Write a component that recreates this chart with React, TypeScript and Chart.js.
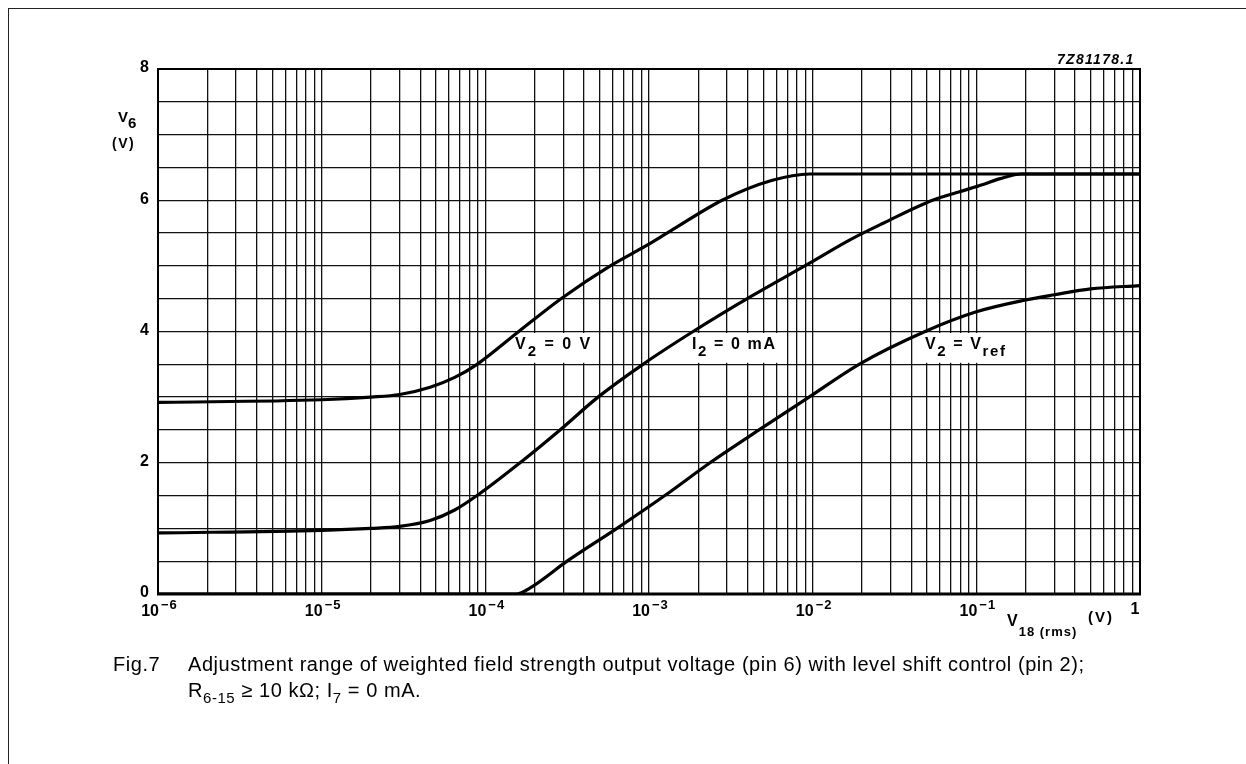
import React, { useEffect, useRef } from "react";
import { Chart, registerables } from "chart.js";

Chart.register(...registerables);

// Axis ranges
const X_MIN = 1e-6;
const X_MAX = 1;
const Y_MIN = 0;
const Y_MAX = 8;
const Y_LABELS = [0, 2, 4, 6, 8];
const X_DECADES = [-6, -5, -4, -3, -2, -1];

// V2 = 0 V
const v2ZeroX = [1e-6, 1e-5, 2e-5, 3e-5, 4.6e-5, 6.5e-5, 8.9e-5, 1.6e-4, 2.9e-4, 5.8e-4, 9.5e-4, 1.35e-3, 2.8e-3, 5.6e-3, 9.6e-3, 1];
const v2ZeroY = [2.92, 2.96, 3.0, 3.04, 3.15, 3.3, 3.5, 4.0, 4.5, 5.0, 5.3, 5.53, 6.0, 6.3, 6.4, 6.4];

// I2 = 0 mA
const i2ZeroX = [1e-6, 1e-5, 2e-5, 3e-5, 4.6e-5, 6.5e-5, 8.9e-5, 1.63e-4, 2.86e-4, 4.88e-4, 9.18e-4, 1.86e-3, 4.1e-3, 9.4e-3, 1.7e-2, 2.7e-2, 5.4e-2, 7.9e-2, 0.11, 0.14, 0.19, 1];
const i2ZeroY = [0.93, 0.97, 1.0, 1.03, 1.12, 1.28, 1.5, 2.0, 2.5, 3.0, 3.5, 4.0, 4.52, 5.03, 5.4, 5.65, 6.0, 6.13, 6.24, 6.33, 6.4, 6.4];

// V2 = Vref
const v2RefX = [1e-6, 1.56e-4, 1.87e-4, 3.16e-4, 6.37e-4, 1.25e-3, 2.36e-3, 4.7e-3, 9.5e-3, 1.92e-2, 4.86e-2, 0.1, 0.2, 0.3, 0.5, 1];
const v2RefY = [0, 0, 0.09, 0.5, 1.0, 1.5, 2.0, 2.5, 3.0, 3.5, 4.0, 4.3, 4.48, 4.56, 4.65, 4.7];

const FONT = '"Liberation Sans", Arial, Helvetica, sans-serif';

type Part = { t: string; size: number; dy?: number; style?: string };

function drawParts(ctx: CanvasRenderingContext2D, x: number, y: number, parts: Part[], spacing = 0) {
  let cx = x;
  ctx.textAlign = "left";
  ctx.textBaseline = "middle";
  (ctx as any).letterSpacing = `${spacing}px`;
  for (const p of parts) {
    ctx.font = `${p.style || "bold"} ${p.size}px ${FONT}`;
    ctx.fillText(p.t, cx, y + (p.dy || 0));
    cx += ctx.measureText(p.t).width;
  }
  (ctx as any).letterSpacing = "0px";
}

function toPoints(xs: number[], ys: number[]) {
  return xs.map((x, i) => ({ x, y: ys[i] }));
}

const decorations = {
  id: "decorations",
  beforeDatasetsDraw(chart: any) {
    const { ctx, chartArea: a, scales } = chart;
    const ys = scales.y;
    ctx.save();
    // white boxes behind the curve labels
    const top = ys.getPixelForValue(4.0) + 1.5;
    const bot = ys.getPixelForValue(3.5) - 1.5;
    ctx.fillStyle = "#fff";
    ctx.fillRect(511, top, 86, bot - top);
    ctx.fillRect(687, top, 94, bot - top);
    ctx.fillRect(920, top, 93, bot - top);
    // plot frame
    ctx.strokeStyle = "#000";
    ctx.lineWidth = 2;
    ctx.strokeRect(a.left, a.top, a.right - a.left, a.bottom - a.top);
    ctx.lineWidth = 3;
    ctx.beginPath();
    ctx.moveTo(a.left - 1, a.bottom);
    ctx.lineTo(a.right + 1, a.bottom);
    ctx.stroke();
    ctx.restore();
  },
  afterDraw(chart: any) {
    const { ctx, scales } = chart;
    const xs = scales.x;
    const ys = scales.y;
    ctx.save();
    ctx.fillStyle = "#000";

    // y tick labels
    ctx.font = `bold 16px ${FONT}`;
    ctx.textAlign = "right";
    ctx.textBaseline = "middle";
    for (const v of Y_LABELS) {
      ctx.fillText(String(v), 149, ys.getPixelForValue(v) - 1);
    }

    // x tick labels (powers of ten)
    for (const e of X_DECADES) {
      const px = xs.getPixelForValue(Math.pow(10, e));
      ctx.font = `bold 16px ${FONT}`;
      ctx.textAlign = "right";
      ctx.textBaseline = "middle";
      ctx.fillText("10", px + 1, 612);
      drawParts(ctx, px + 3, 605, [{ t: "\u2212" + String(-e), size: 13 }], 1);
    }
    ctx.font = `bold 16px ${FONT}`;
    ctx.textAlign = "center";
    ctx.textBaseline = "middle";
    ctx.fillText("1", xs.getPixelForValue(X_MAX) - 5, 610);

    // axis titles
    drawParts(ctx, 118, 118, [
      { t: "V", size: 15 },
      { t: "6", size: 15, dy: 6 },
    ]);
    drawParts(ctx, 112, 144, [{ t: "(V)", size: 14 }], 1.5);
    drawParts(ctx, 1007, 622, [
      { t: "V", size: 16 },
      { t: "18 (rms)", size: 13, dy: 10 },
    ], 1);
    drawParts(ctx, 1088, 618, [{ t: "(V)", size: 15 }], 2);

    // drawing code
    drawParts(ctx, 1057, 60, [{ t: "7Z81178.1", size: 14, style: "italic bold" }], 1.3);

    // curve labels
    drawParts(ctx, 515, 345, [
      { t: "V", size: 16 },
      { t: "2", size: 15, dy: 7 },
      { t: " = 0 V", size: 16 },
    ], 2);
    drawParts(ctx, 692, 345, [
      { t: "I", size: 16 },
      { t: "2", size: 15, dy: 7 },
      { t: " = 0 mA", size: 16 },
    ], 1.6);
    drawParts(ctx, 925, 345, [
      { t: "V", size: 16 },
      { t: "2", size: 15, dy: 7 },
      { t: " = V", size: 16 },
      { t: "ref", size: 15, dy: 7 },
    ], 1.6);
    ctx.restore();
  },
};

export default function App() {
  const canvasRef = useRef<HTMLCanvasElement | null>(null);

  useEffect(() => {
    const canvas = canvasRef.current;
    if (!canvas) return;
    const lineStyle = {
      borderColor: "#000",
      borderWidth: 3.2,
      pointRadius: 0,
      fill: false,
      cubicInterpolationMode: "monotone" as const,
    };
    const chart = new Chart(canvas, {
      type: "line",
      data: {
        datasets: [
          { label: "V2 = 0 V", data: toPoints(v2ZeroX, v2ZeroY), ...lineStyle },
          { label: "I2 = 0 mA", data: toPoints(i2ZeroX, i2ZeroY), ...lineStyle },
          { label: "V2 = Vref", data: toPoints(v2RefX, v2RefY), ...lineStyle },
        ],
      },
      options: {
        responsive: false,
        animation: false,
        events: [],
        layout: { padding: { left: 158, right: 106, top: 69, bottom: 170 } },
        plugins: { legend: { display: false }, tooltip: { enabled: false } },
        scales: {
          x: {
            type: "logarithmic",
            min: X_MIN,
            max: X_MAX,
            afterBuildTicks: (scale: any) => {
              const ticks: { value: number }[] = [];
              for (let e = -6; e < 0; e++) {
                for (let m = 1; m <= 9; m++) ticks.push({ value: m * Math.pow(10, e) });
              }
              ticks.push({ value: 1 });
              scale.ticks = ticks;
            },
            afterFit: (scale: any) => {
              scale.height = 0;
            },
            ticks: { display: false },
            border: { display: false },
            grid: { color: "#111", lineWidth: 1.3, drawTicks: false, tickLength: 0 },
          },
          y: {
            type: "linear",
            min: Y_MIN,
            max: Y_MAX,
            ticks: { display: false, stepSize: 0.5 },
            afterFit: (scale: any) => {
              scale.width = 0;
            },
            border: { display: false },
            grid: { color: "#111", lineWidth: 1.3, drawTicks: false, tickLength: 0 },
          },
        },
      },
      plugins: [decorations],
    });
    return () => chart.destroy();
  }, []);

  const subStyle: React.CSSProperties = { fontSize: 15, position: "relative", top: 6, lineHeight: 0 };

  return (
    <div style={{ position: "absolute", left: 0, top: 0, width: 1246, height: 764, background: "#fff", overflow: "hidden" }}>
      <canvas ref={canvasRef} width={1246} height={764} style={{ position: "absolute", left: 0, top: 0 }} />
      <div
        style={{
          position: "absolute",
          left: 8,
          top: 8,
          width: 1238,
          height: 756,
          borderTop: "1.5px solid #222",
          borderLeft: "1.5px solid #222",
          pointerEvents: "none",
        }}
      />
      <div
        style={{
          position: "absolute",
          left: 113,
          top: 651,
          fontFamily: FONT,
          fontSize: 20,
          letterSpacing: "0.55px",
          lineHeight: "26px",
          color: "#000",
          display: "flex",
          whiteSpace: "nowrap",
        }}
      >
        <div style={{ width: 75 }}>Fig.7</div>
        <div>
          <div>
            Adjustment range of weighted field strength output voltage (pin 6) with level shift control (pin 2);
          </div>
          <div>
            R<span style={subStyle}>6-15</span> ≥ 10 kΩ; I<span style={subStyle}>7</span> = 0 mA.
          </div>
        </div>
      </div>
    </div>
  );
}
